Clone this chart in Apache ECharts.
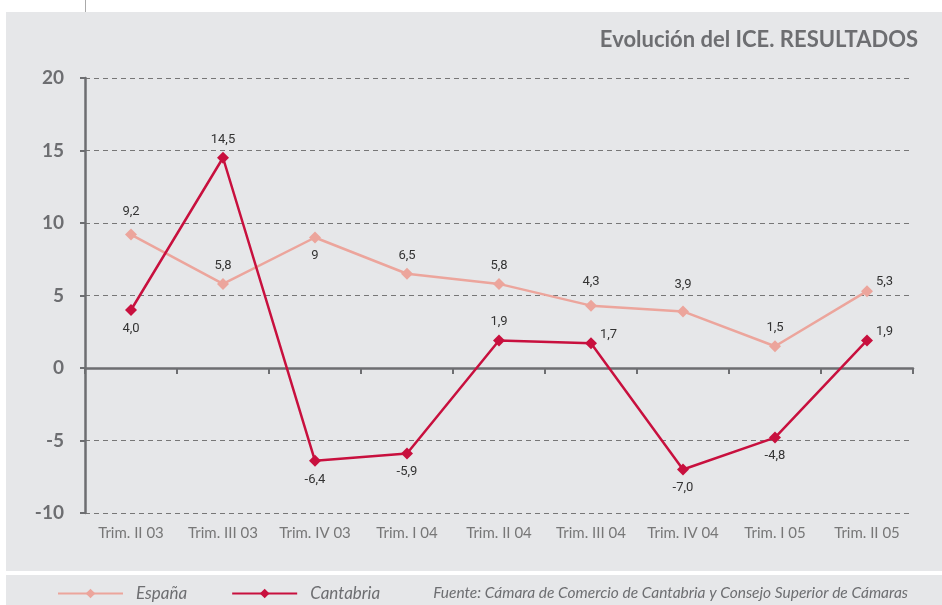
<!DOCTYPE html>
<html>
<head>
<meta charset="utf-8">
<script src="https://cdn.jsdelivr.net/npm/echarts@6/dist/echarts.min.js"></script>
<style>
  html, body { margin: 0; padding: 0; background: #fff; }
  #chart { width: 942px; height: 605px; }
</style>
</head>
<body>
<div id="chart"></div>
<script>
const categories = ['Trim. II 03', 'Trim. III 03', 'Trim. IV 03', 'Trim. I 04', 'Trim. II 04',
  'Trim. III 04', 'Trim. IV 04', 'Trim. I 05', 'Trim. II 05'];
const espana = [9.2, 5.8, 9, 6.5, 5.8, 4.3, 3.9, 1.5, 5.3];
const espanaLabels = ['9,2', '5,8', '9', '6,5', '5,8', '4,3', '3,9', '1,5', '5,3'];
const cantabria = [4.0, 14.5, -6.4, -5.9, 1.9, 1.7, -7.0, -4.8, 1.9];
const cantabriaLabels = ['4,0', '14,5', '-6,4', '-5,9', '1,9', '1,7', '-7,0', '-4,8', '1,9'];

// where each value label sits around its point
const espanaPos = ['top', 'top', 'bottom', 'top', 'top', 'top', 'top', 'top', 'right'];
const cantabriaPos = ['bottom', 'top', 'bottom', 'bottom', 'top', 'right', 'bottom', 'bottom', 'right'];

const panel = '#e6e7e9';
const grey = '#6d6e71';

function makeData(values, labels, pos, extra) {
  return values.map((v, i) => {
    const p = pos[i];
    const label = { position: p, formatter: labels[i], distance: 6 };
    if (p === 'right') { label.distance = 3; label.offset = [0, -9]; }
    if (extra[i]) label.distance = extra[i];
    return { value: v, label: label };
  });
}

const chart = echarts.init(document.getElementById('chart'), null, { renderer: 'canvas' });

const labelStyle = {
  show: true,
  color: '#333',
  fontFamily: 'Roboto',
  fontSize: 13
};

chart.setOption({
  backgroundColor: '#fff',
  animation: false,
  graphic: [
    { type: 'rect', z: -100, shape: { x: 6, y: 12, width: 936, height: 559 }, style: { fill: panel } },
    { type: 'rect', z: -100, shape: { x: 6, y: 575, width: 936, height: 30 }, style: { fill: panel } },
    { type: 'line', z: -100, shape: { x1: 85.5, y1: 0, x2: 85.5, y2: 12 }, style: { stroke: '#aaa', lineWidth: 1 } },
    {
      type: 'text', right: 24, top: 29,
      style: { text: 'Evolución del ICE. RESULTADOS', fill: grey, font: 'bold 22px Lato' }
    },
    {
      type: 'text', right: 34, top: 585,
      style: {
        text: 'Fuente: Cámara de Comercio de Cantabria y Consejo Superior de Cámaras',
        fill: grey, font: 'italic 15.5px Lato'
      }
    }
  ],
  legend: {
    left: 52,
    top: 580,
    itemWidth: 65,
    itemHeight: 12,
    itemGap: 44,
    data: ['España', 'Cantabria'],
    textStyle: { color: grey, fontFamily: 'Lato', fontStyle: 'italic', fontSize: 17, padding: [0, 0, 0, 8] }
  },
  grid: { left: 85, right: 29, top: 78, bottom: 92 },
  xAxis: [
    {
      type: 'category',
      data: categories,
      position: 'bottom',
      axisLine: { show: false, onZero: false },
      axisTick: { show: false },
      axisLabel: { interval: 0, color: '#777', fontFamily: 'Lato', fontSize: 15, margin: 13 }
    },
    {
      type: 'category',
      data: categories,
      position: 'bottom',
      axisLine: { show: true, onZero: true, lineStyle: { color: grey, width: 2.5 } },
      axisTick: { show: true, length: 6, interval: 0, lineStyle: { color: grey, width: 2 } },
      axisLabel: { show: false }
    }
  ],
  yAxis: {
    type: 'value',
    min: -10,
    max: 20,
    interval: 5,
    axisLine: { show: true, lineStyle: { color: grey, width: 2.5 } },
    axisTick: { show: true, length: 5, lineStyle: { color: grey, width: 2 } },
    axisLabel: { color: grey, fontFamily: 'Lato', fontWeight: 'bold', fontSize: 19, margin: 21 },
    splitLine: { show: true, lineStyle: { color: '#777', type: [5, 4], width: 1 } }
  },
  series: [
    {
      name: 'España',
      type: 'line',
      xAxisIndex: 0,
      data: makeData(espana, espanaLabels, espanaPos, { 0: 10, 5: 11, 6: 14 }),
      symbol: 'diamond',
      symbolSize: 12,
      color: '#eca59c',
      lineStyle: { width: 2.5 },
      label: labelStyle,
      z: 3
    },
    {
      name: 'Cantabria',
      type: 'line',
      xAxisIndex: 0,
      data: makeData(cantabria, cantabriaLabels, cantabriaPos, {}),
      symbol: 'diamond',
      symbolSize: 12,
      color: '#c8103e',
      lineStyle: { width: 2.5 },
      label: labelStyle,
      z: 4
    }
  ]
});
</script>
</body>
</html>
